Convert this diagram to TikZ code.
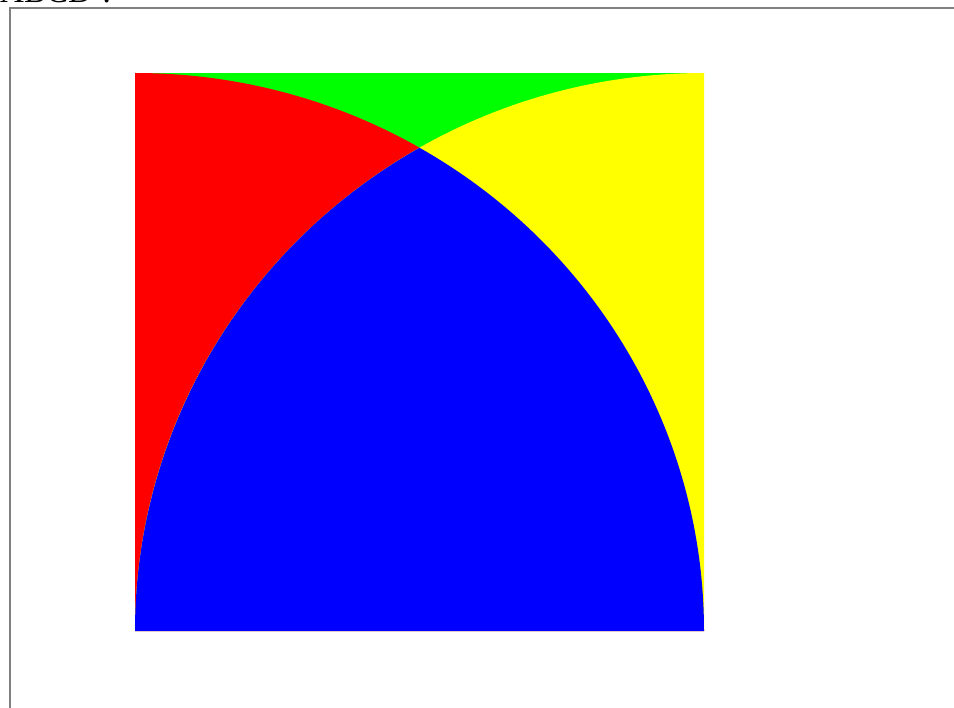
\documentclass[tikz,border=0pt]{standalone}
\usepackage{fontspec}
\setmainfont{Liberation Serif}
\usepackage{xcolor}
\definecolor{sqred}{RGB}{255,0,0}
\definecolor{sqgreen}{RGB}{0,255,0}
\definecolor{sqyellow}{RGB}{255,255,0}
\definecolor{sqblue}{RGB}{0,0,255}

\begin{document}
\begin{tikzpicture}[x=1pt, y=1pt]
\useasboundingbox (0,0) rectangle (954,-708);
% --- frame and title ---
\node[anchor=base west, inner sep=0pt, font=\fontsize{33}{40}\selectfont] (title) at (0,-3) {ABCD ?};
\draw[black!50, line width=2pt] (9.5,-708) -- (9.5,-8.5) -- (954,-8.5);
% --- square ABCD with two quarter circles ---
\begin{scope}[shift={(135,-631)}, x=569pt, y=558pt]
\fill[sqgreen] (0,0) rectangle (1,1);
\fill[sqred] (0,0) -- (1,0) arc[start angle=0, end angle=90, radius=1] -- cycle;
\fill[sqyellow] (1,0) -- (0,0) arc[start angle=180, end angle=90, radius=1] -- cycle;
\fill[sqblue] (0,0) arc[start angle=180, end angle=120, radius=1]
  arc[start angle=60, end angle=0, radius=1] -- cycle;
\end{scope}
\end{tikzpicture}
\end{document}
